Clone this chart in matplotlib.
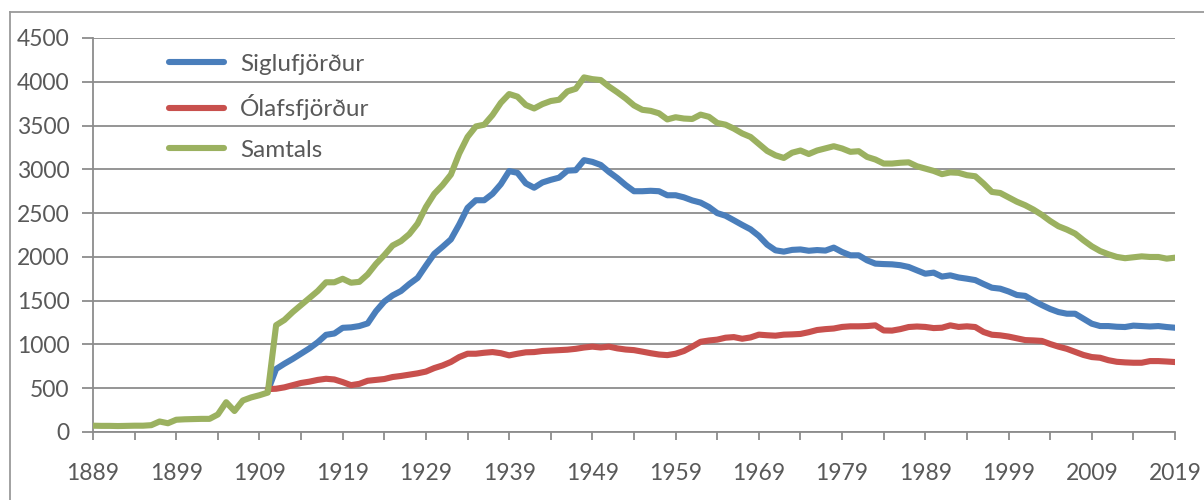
import matplotlib
matplotlib.use("Agg")
import matplotlib.pyplot as plt
from matplotlib.ticker import FixedLocator
from matplotlib.lines import Line2D

plt.rcParams['font.family'] = ['Lato', 'DejaVu Sans']

# ---- data ----
years_total = list(range(1889, 2020))
samtals = [
    72, 70, 70, 68, 70, 72, 72, 78, 120, 100,            # 1889-1898
    140, 145, 148, 150, 150, 200, 340, 240, 360, 395,    # 1899-1908
    420, 450, 1220, 1280, 1370, 1450, 1530, 1610, 1710, 1710,  # 1909-1918
    1750, 1705, 1715, 1800, 1920, 2020, 2130, 2180, 2260, 2380,  # 1919-1928
    2570, 2720, 2820, 2940, 3180, 3370, 3490, 3510, 3620, 3760,  # 1929-1938
    3860, 3830, 3735, 3695, 3745, 3780, 3795, 3890, 3920, 4050,  # 1939-1948
    4030, 4020, 3945, 3880, 3810, 3730, 3680, 3668, 3640, 3570,  # 1949-1958
    3595, 3580, 3575, 3625, 3600, 3530, 3510, 3465, 3410, 3370,  # 1959-1968
    3290, 3210, 3160, 3130, 3190, 3215, 3175, 3215, 3240, 3264,  # 1969-1978
    3238, 3200, 3207, 3142, 3112, 3066, 3066, 3075, 3080, 3035,  # 1979-1988
    3009, 2982, 2945, 2965, 2960, 2933, 2921, 2837, 2742, 2730,  # 1989-1998
    2680, 2630, 2590, 2540, 2480, 2410, 2350, 2312, 2266, 2190,  # 1999-2008
    2121, 2067, 2030, 2000, 1985, 1995, 2006, 1999, 1999, 1980,  # 2009-2018
    1991,                                                         # 2019
]

years_towns = list(range(1910, 2020))
siglufjordur = [
    470, 720, 780, 835, 895, 955, 1025, 1110, 1125,              # 1910-1918
    1190, 1195, 1210, 1240, 1380, 1490, 1560, 1610, 1690, 1760,  # 1919-1928
    1900, 2035, 2115, 2200, 2370, 2560, 2647, 2647, 2720, 2830,  # 1929-1938
    2980, 2960, 2840, 2790, 2850, 2880, 2905, 2985, 2990, 3105,  # 1939-1948
    3085, 3050, 2970, 2900, 2820, 2750, 2750, 2755, 2750, 2704,  # 1949-1958
    2704, 2680, 2645, 2620, 2570, 2500, 2470, 2418, 2365, 2315,  # 1959-1968
    2240, 2140, 2075, 2060, 2080, 2085, 2070, 2078, 2072, 2106,  # 1969-1978
    2056, 2018, 2018, 1961, 1923, 1918, 1915, 1905, 1885, 1846,  # 1979-1988
    1808, 1820, 1775, 1789, 1765, 1751, 1735, 1690, 1648, 1637,  # 1989-1998
    1605, 1565, 1555, 1500, 1450, 1405, 1370, 1351, 1351, 1294,  # 1999-2008
    1237, 1210, 1210, 1202, 1199, 1215, 1210, 1205, 1210, 1199,  # 2009-2018
    1191,                                                         # 2019
]
olafsfjordur = [
    490, 494, 510, 535, 560, 575, 595, 608, 600,                 # 1910-1918
    570, 535, 550, 585, 595, 605, 628, 640, 655, 670,            # 1919-1928
    690, 730, 760, 800, 856, 894, 894, 905, 913, 900,            # 1929-1938
    875, 894, 910, 913, 925, 930, 935, 940, 950, 965,            # 1939-1948
    975, 965, 975, 955, 942, 935, 918, 900, 885, 878,            # 1949-1958
    894, 925, 975, 1030, 1045, 1055, 1077, 1084, 1065, 1080,     # 1959-1968
    1112, 1105, 1100, 1112, 1115, 1120, 1140, 1165, 1175, 1182,  # 1969-1978
    1200, 1207, 1207, 1210, 1218, 1160, 1158, 1175, 1199, 1205,  # 1979-1988
    1200, 1187, 1191, 1218, 1200, 1207, 1199, 1142, 1111, 1104,  # 1989-1998
    1090, 1070, 1050, 1046, 1040, 1005, 975, 950, 915, 880,      # 1999-2008
    856, 848, 820, 802, 795, 791, 791, 810, 810, 805,            # 2009-2018
    799,                                                          # 2019
]

series_names = ['Siglufjörður', 'Ólafsfjörður', 'Samtals']
series_colors = ['#4A7EBB', '#C8504D', '#9BB160']
y_ticks = [0, 500, 1000, 1500, 2000, 2500, 3000, 3500, 4000, 4500]
x_label_years = list(range(1889, 2020, 10))
x_minor_years = list(range(1894, 2020, 10))

# ---- figure ----
W, H = 1204, 500
fig = plt.figure(figsize=(W / 100, H / 100), dpi=100)
fig.patch.set_facecolor('white')

left_px, right_px, top_px, bottom_px = 93, 1175, 38, 432
ax = fig.add_axes([left_px / W, 1 - bottom_px / H,
                   (right_px - left_px) / W, (bottom_px - top_px) / H])

text_color = '#595959'
grid_color = '#8C8C8C'

lw = 4.4
ax.plot(years_towns, siglufjordur, color=series_colors[0], lw=lw,
        solid_joinstyle='round', solid_capstyle='round', label=series_names[0], zorder=3)
ax.plot(years_towns, olafsfjordur, color=series_colors[1], lw=lw,
        solid_joinstyle='round', solid_capstyle='round', label=series_names[1], zorder=3)
ax.plot(years_total, samtals, color=series_colors[2], lw=lw,
        solid_joinstyle='round', solid_capstyle='round', label=series_names[2], zorder=3)

ax.set_xlim(1889, 2019)
ax.set_ylim(0, 4500)

ax.set_yticks(y_ticks)
ax.set_yticklabels([str(v) for v in y_ticks])
ax.xaxis.set_major_locator(FixedLocator(x_label_years))
ax.set_xticklabels([str(v) for v in x_label_years])
ax.xaxis.set_minor_locator(FixedLocator(x_minor_years))

ax.grid(axis='y', color=grid_color, lw=1.3, zorder=1)
ax.set_axisbelow(True)

for s in ['top', 'right']:
    ax.spines[s].set_visible(False)
for s in ['left', 'bottom']:
    ax.spines[s].set_color(grid_color)
    ax.spines[s].set_linewidth(1.3)

ax.tick_params(axis='y', which='major', length=8, width=1.3, color=grid_color,
               labelsize=16.5, labelcolor=text_color, pad=9)
ax.tick_params(axis='x', which='both', length=6, width=1.3, color=grid_color,
               labelsize=16.5, labelcolor=text_color, pad=16, direction='out')
ax.tick_params(axis='x', which='minor', labelbottom=False)

leg = ax.legend(loc='upper left', bbox_to_anchor=(0.0615, 0.985), frameon=False,
                fontsize=17.5, labelcolor=text_color, handlelength=2.26,
                handletextpad=0.66, labelspacing=0.8, borderaxespad=0)

# chart area border (left and top visible)
fig.add_artist(Line2D([10 / W, 10 / W], [0, 1 - 12 / H], color='#9A9A9A', lw=1.3,
                      transform=fig.transFigure))
fig.add_artist(Line2D([10 / W, 1], [1 - 12 / H, 1 - 12 / H], color='#9A9A9A', lw=1.3,
                      transform=fig.transFigure))

fig.savefig('out.png', dpi=100, facecolor='white')
